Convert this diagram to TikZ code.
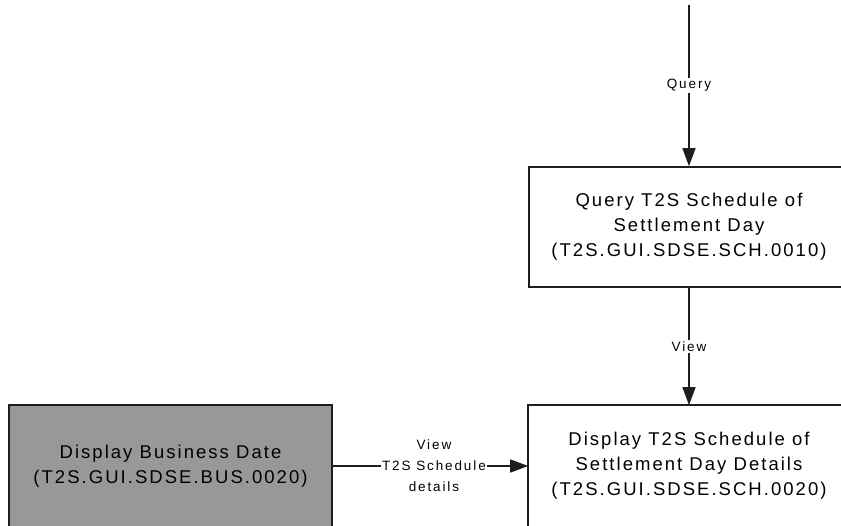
\documentclass[tikz,border=0pt]{standalone}
\usepackage{fontspec}
\setmainfont{Liberation Sans}
\newfontfamily\boxfont[LetterSpace=11]{Liberation Sans}
\newfontfamily\lblfont[LetterSpace=14]{Liberation Sans}
\usetikzlibrary{arrows.meta}
\definecolor{boxgray}{RGB}{152,153,150}
\definecolor{edgecol}{RGB}{30,30,30}
\begin{document}
\begin{tikzpicture}[x=1pt,y=-1pt,
  screen/.style={draw=edgecol,line width=1.6pt,fill=white,rectangle,
    minimum width=320pt,minimum height=120pt,inner sep=0pt,align=center,
    font=\boxfont\fontsize{18.5}{25}\selectfont},
  openscreen/.style={screen,draw=none},
  shaded/.style={openscreen,fill=boxgray,minimum width=321pt},
  border/.style={draw=edgecol,line width=1.6pt},
  flow/.style={line width=1.5pt,draw=edgecol,-{Triangle[width=13pt,length=18pt]}},
  lbl/.style={fill=white,inner sep=1.5pt,align=center,
    font=\lblfont\fontsize{13.5}{21}\selectfont}]
\useasboundingbox (0,0) rectangle (841,526);
\node[screen] (q) at (689,227) {Query T2S Schedule of\\Settlement Day\\(T2S.GUI.SDSE.SCH.0010)};
\node[openscreen] (d) at (689,466) {Display T2S Schedule of\\Settlement Day Details\\(T2S.GUI.SDSE.SCH.0020)};
\node[shaded] (b) at (170.5,466) {Display Business Date\\(T2S.GUI.SDSE.BUS.0020)};
\draw[border] (d.south west) -- (d.north west) -- (d.north east) -- (d.south east);
\draw[border] (b.south west) -- (b.north west) -- (b.north east) -- (b.south east);
\coordinate (top) at (689,5);
\draw[flow] (top) -- node[lbl] {Query} (q.north);
\draw[flow] (q.south) -- node[lbl] {View} (d.north);
\draw[flow] (b.east) -- node[lbl,pos=0.52] {View\\T2S Schedule\\details} (d.west);
\end{tikzpicture}
\end{document}
